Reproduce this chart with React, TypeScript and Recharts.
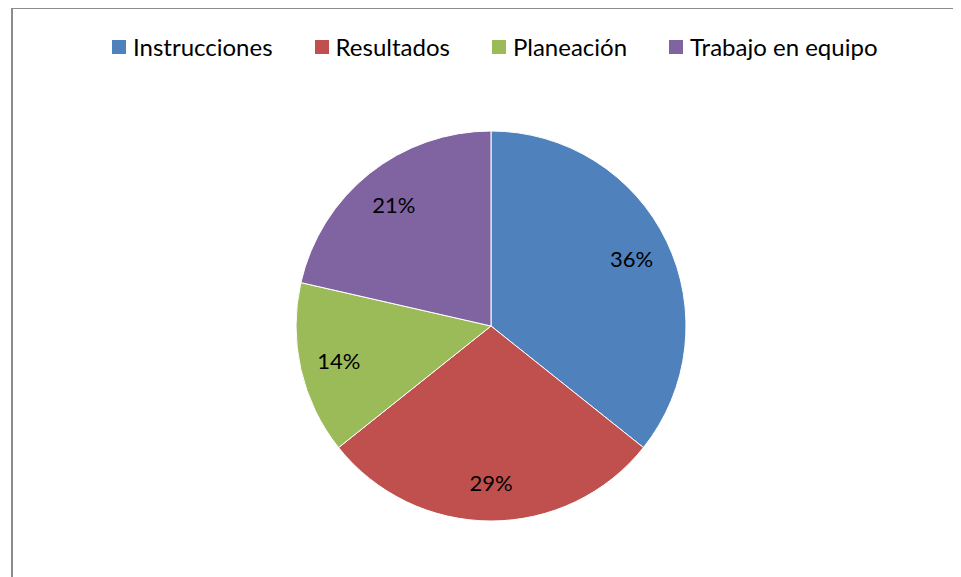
import React from 'react';
import { PieChart, Pie, Cell } from 'recharts';

const categories = ['Instrucciones', 'Resultados', 'Planeación', 'Trabajo en equipo'];
const values = [5, 4, 2, 3];
const colors = ['#4F81BD', '#C0504D', '#9BBB59', '#8064A2'];

const data = categories.map((name, i) => ({ name, value: values[i] }));
const total = values.reduce((a, b) => a + b, 0);
const FONT = 'Lato, "Open Sans", sans-serif';
const RAD = Math.PI / 180;

const renderLabel = (props: any) => {
  const { cx, cy, midAngle, outerRadius, value } = props;
  const r = outerRadius * 0.8;
  const x = cx + r * Math.cos(-midAngle * RAD);
  const y = cy + r * Math.sin(-midAngle * RAD);
  return (
    <text x={x} y={y} fill="#000" textAnchor="middle" dominantBaseline="central" fontSize={22} fontFamily={FONT}>
      {`${Math.round((value / total) * 100)}%`}
    </text>
  );
};

export default function App() {
  return (
    <div style={{ position: 'relative', width: 953, height: 569, background: '#fff' }}>
      <div style={{ position: 'absolute', left: 3, top: -1, width: 960, height: 580, borderLeft: '2px solid #8c8c8c', borderTop: '2px solid #8c8c8c', boxSizing: 'border-box' }} />
      <div style={{ position: 'absolute', left: 104, top: 24, display: 'flex', gap: 42, fontFamily: FONT, fontSize: 24, lineHeight: '30px', color: '#000', whiteSpace: 'nowrap' }}>
        {categories.map((c, i) => (
          <div key={c} style={{ display: 'flex', alignItems: 'center' }}>
            <span style={{ display: 'inline-block', width: 14, height: 14, background: colors[i], marginRight: 7 }} />
            <span>{c}</span>
          </div>
        ))}
      </div>
      <div style={{ position: 'absolute', left: 0, top: 0 }}>
        <PieChart width={953} height={569} margin={{ top: 0, right: 0, bottom: 0, left: 0 }}>
          <Pie
            data={data}
            dataKey="value"
            nameKey="name"
            cx={483}
            cy={318}
            outerRadius={195}
            startAngle={90}
            endAngle={-270}
            stroke="#fff"
            strokeWidth={1}
            label={renderLabel}
            labelLine={false}
            isAnimationActive={false}
          >
            {data.map((d, i) => (
              <Cell key={d.name} fill={colors[i]} />
            ))}
          </Pie>
        </PieChart>
      </div>
    </div>
  );
}
